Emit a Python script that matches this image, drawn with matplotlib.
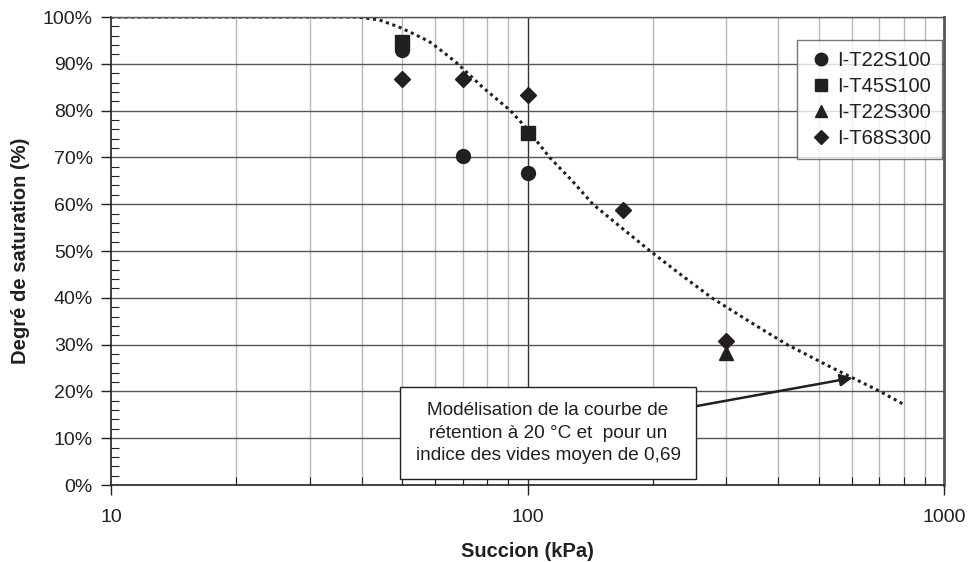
import matplotlib
matplotlib.use("Agg")
import matplotlib.pyplot as plt
from matplotlib.ticker import FixedLocator, NullFormatter, FuncFormatter

# ---- data ----
s_T22S100 = [50, 70, 100]
sr_T22S100 = [93.0, 70.3, 66.7]
s_T45S100 = [50, 100]
sr_T45S100 = [94.6, 75.2]
s_T22S300 = [300]
sr_T22S300 = [28.2]
s_T68S300 = [50, 70, 100, 170, 300]
sr_T68S300 = [86.8, 86.7, 83.4, 58.8, 30.8]

# model curve
curve_s = [10, 20, 30, 39, 44, 49, 53, 58, 63, 68, 78, 91, 100, 113, 128, 143.5, 168, 197, 233,
           277, 340, 420, 540, 702, 805]
curve_sr = [100, 100, 100, 100, 99.4, 97.9, 96.5, 94.8, 92.4, 90, 85, 80, 76, 70, 65, 60, 55, 50, 45,
            40, 35, 30, 25, 20, 17.1]

labels = ["I-T22S100", "I-T45S100", "I-T22S300", "I-T68S300"]
y_major = list(range(0, 101, 10))
x_major = [10, 100, 1000]

plt.rcParams['font.family'] = ['Liberation Sans', 'DejaVu Sans']
fig = plt.figure(figsize=(9.71, 5.62), dpi=100)
ax = fig.add_axes([111/971, 1-485/562, (944-111)/971, (485-17)/562])

ax.set_xscale('log')
ax.set_xlim(10, 1000)
ax.set_ylim(0, 100)

# grid
minor_x = [v * d for d in (10, 100) for v in range(2, 10)]
for xv in minor_x:
    ax.axvline(xv, color='#b8b8b8', lw=1.0, zorder=0)
ax.axvline(100, color='#333333', lw=1.0, zorder=0)
for yv in y_major[1:]:
    ax.axhline(yv, color='#555555', lw=1.0, zorder=0)

mk = dict(color='#231f20', linestyle='none', markersize=10, zorder=3)
ax.plot(s_T22S100, sr_T22S100, marker='o', label=labels[0], **mk)
ax.plot(s_T45S100, sr_T45S100, marker='s', label=labels[1], **mk)
ax.plot(s_T22S300, sr_T22S300, marker='^', label=labels[2], **mk)
ax.plot(s_T68S300, sr_T68S300, marker='D', label=labels[3], color='#231f20', linestyle='none',
        markersize=8, zorder=3)

ax.plot(curve_s, curve_sr, linestyle=(0, (1, 1.2)), color='#231f20', lw=2.2, zorder=2)

# ticks
ax.xaxis.set_major_locator(FixedLocator(x_major))
ax.xaxis.set_minor_locator(FixedLocator(minor_x))
ax.xaxis.set_major_formatter(FuncFormatter(lambda v, p: f"{int(v)}"))
ax.xaxis.set_minor_formatter(NullFormatter())
ax.yaxis.set_major_locator(FixedLocator(y_major))
ax.yaxis.set_minor_locator(FixedLocator(list(range(0, 101, 2))))
ax.yaxis.set_major_formatter(FuncFormatter(lambda v, p: f"{int(v)}%"))
ax.tick_params(axis='both', which='major', direction='out', length=7, width=1,
               labelsize=14, colors='#231f20')
ax.tick_params(axis='x', which='major', pad=10)
ax.tick_params(axis='y', which='major', pad=6)
ax.tick_params(axis='both', which='minor', direction='in', length=6, width=0.8, color='#231f20')

for sp in ['left', 'bottom']:
    ax.spines[sp].set_color('#231f20')
    ax.spines[sp].set_linewidth(1.2)
ax.spines['top'].set_color('#555555')
ax.spines['top'].set_linewidth(1.0)
ax.spines['right'].set_color('#555555')
ax.spines['right'].set_linewidth(2.0)

ax.set_xlabel("Succion (kPa)", fontsize=14.5, fontweight='bold', color='#231f20')
ax.set_ylabel("Degré de saturation (%)", fontsize=14.5, fontweight='bold', color='#231f20')
ax.xaxis.set_label_coords(0.5, (485-542)/468)
ax.yaxis.set_label_coords((30-111)/833, 0.5)

leg = ax.legend(loc='upper right', bbox_to_anchor=(942/971, 1-40/562), bbox_transform=fig.transFigure,
                fontsize=14.5, frameon=True, fancybox=False, handletextpad=0.15,
                handlelength=1.3, borderpad=0.55, labelspacing=0.35, markerscale=0.9,
                borderaxespad=0)
leg.get_frame().set_edgecolor('#555555')
leg.get_frame().set_linewidth(1.0)
for t in leg.get_texts():
    t.set_color('#231f20')

# annotation
ax.annotate("Modélisation de la courbe de\nrétention à 20 °C et  pour un\nindice des vides moyen de 0,69",
            xy=(603, 22.9), xycoords='data',
            xytext=(548/971, 1-433/562), textcoords='figure fraction',
            ha='center', va='center', fontsize=13.7, color='#231f20', linespacing=1.4,
            bbox=dict(boxstyle='square,pad=0.8', fc='white', ec='#231f20', lw=1.0),
            arrowprops=dict(arrowstyle='-|>', color='#231f20', lw=1.8, mutation_scale=18,
                            shrinkA=0, shrinkB=0),
            zorder=4)

fig.savefig("out.png", dpi=100)
